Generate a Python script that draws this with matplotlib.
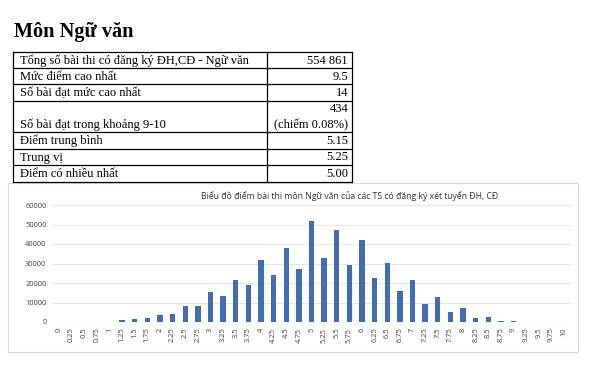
import numpy as np
import matplotlib
matplotlib.use("Agg")
import matplotlib.pyplot as plt

# du lieu bang
row_labels = ["Tổng số bài thi có đăng ký ĐH,CĐ - Ngữ văn", "Mức điểm cao nhất",
              "Số bài đạt mức cao nhất", "Số bài đạt trong khoảng 9-10",
              "Điểm trung bình", "Trung vị", "Điểm có nhiều nhất"]
row_values = ["554 861", "9.5", "14", "434\n(chiếm 0.08%)", "5.15", "5.25", "5.00"]

# du lieu bieu do
scores = ["0", "0.25", "0.5", "0.75", "1", "1.25", "1.5", "1.75", "2", "2.25", "2.5",
          "2.75", "3", "3.25", "3.5", "3.75", "4", "4.25", "4.5", "4.75", "5", "5.25",
          "5.5", "5.75", "6", "6.25", "6.5", "6.75", "7", "7.25", "7.5", "7.75", "8",
          "8.25", "8.5", "8.75", "9", "9.25", "9.5", "9.75", "10"]
counts = [0, 0, 0, 0, 20, 800, 1300, 1800, 3800, 4200, 8000,
          8200, 15300, 13500, 21700, 18800, 31700, 24000, 37800, 27400, 52000, 32900,
          47200, 29400, 42300, 22800, 30200, 15800, 21700, 9400, 12700, 5000, 7200,
          1900, 2400, 600, 300, 50, 14, 0, 0]

W, H = 600, 387
fig = plt.figure(figsize=(W / 100, H / 100), dpi=100)

# lop ve bang (toa do pixel)
bg = fig.add_axes([0, 0, 1, 1])
bg.set_xlim(0, W)
bg.set_ylim(H, 0)
bg.axis("off")

serif = ["Liberation Serif", "DejaVu Serif"]
bg.text(14, 37, "Môn Ngữ văn", fontsize=14.6, fontweight="bold", family=serif, va="baseline")

x0, xm, x1 = 13, 267, 352
ys = [52, 68, 84, 101, 132, 149, 165, 182]
fs = 9.0
for y in ys:
    bg.plot([x0, x1], [y, y], color="black", lw=0.9)
for x in (x0, xm, x1):
    bg.plot([x, x], [ys[0], ys[-1]], color="black", lw=0.9)
for i, (lab, val) in enumerate(zip(row_labels, row_values)):
    top, bot = ys[i], ys[i + 1]
    if "\n" in val:
        a, b = val.split("\n")
        mid = (top + bot) / 2
        bg.text(20, (mid + bot) / 2 + 0.5, lab, fontsize=fs, family=serif, va="center")
        bg.text(348, (top + mid) / 2 + 0.5, a, fontsize=fs, family=serif, va="center", ha="right")
        bg.text(348, (mid + bot) / 2 + 0.5, b, fontsize=fs, family=serif, va="center", ha="right")
    else:
        yc = (top + bot) / 2 + 0.5
        bg.text(20, yc, lab, fontsize=fs, family=serif, va="center")
        bg.text(348, yc, val, fontsize=fs, family=serif, va="center", ha="right")

# khung bieu do
bg.add_patch(plt.Rectangle((8, 183), 570, 169, fill=False, ec="#D9D9D9", lw=0.8))
bg.text(350, 196, "Biểu đồ điểm bài thi môn Ngữ văn của các TS có đăng ký xét tuyển ĐH, CĐ",
        fontsize=6.2, color="#333333", ha="center", va="center", family=["Open Sans", "DejaVu Sans"])

# bieu do cot
ax = fig.add_axes([52 / W, (H - 322) / H, (571 - 52) / W, (322 - 205) / H])
pos = np.arange(len(scores))
ax.bar(pos, counts, width=0.42, color="#3F6DB8", zorder=3)
ax.set_xlim(-0.55, len(scores) - 0.45)
ax.set_ylim(0, 60000)
ax.set_yticks(np.arange(0, 60001, 10000))
ax.set_xticks(pos)
ax.set_xticklabels(scores, rotation=90)
ax.grid(axis="y", color="#E6E6E6", lw=0.7, zorder=0)
for s in ax.spines.values():
    s.set_visible(False)
ax.axhline(0, color="#D9D9D9", lw=0.8, zorder=2)
ax.tick_params(length=0, labelsize=5.4, labelcolor="#404040", pad=4)
for t in ax.get_xticklabels() + ax.get_yticklabels():
    t.set_family(["Open Sans", "DejaVu Sans"])
ax.patch.set_alpha(0)

fig.savefig("out.png", dpi=100)
